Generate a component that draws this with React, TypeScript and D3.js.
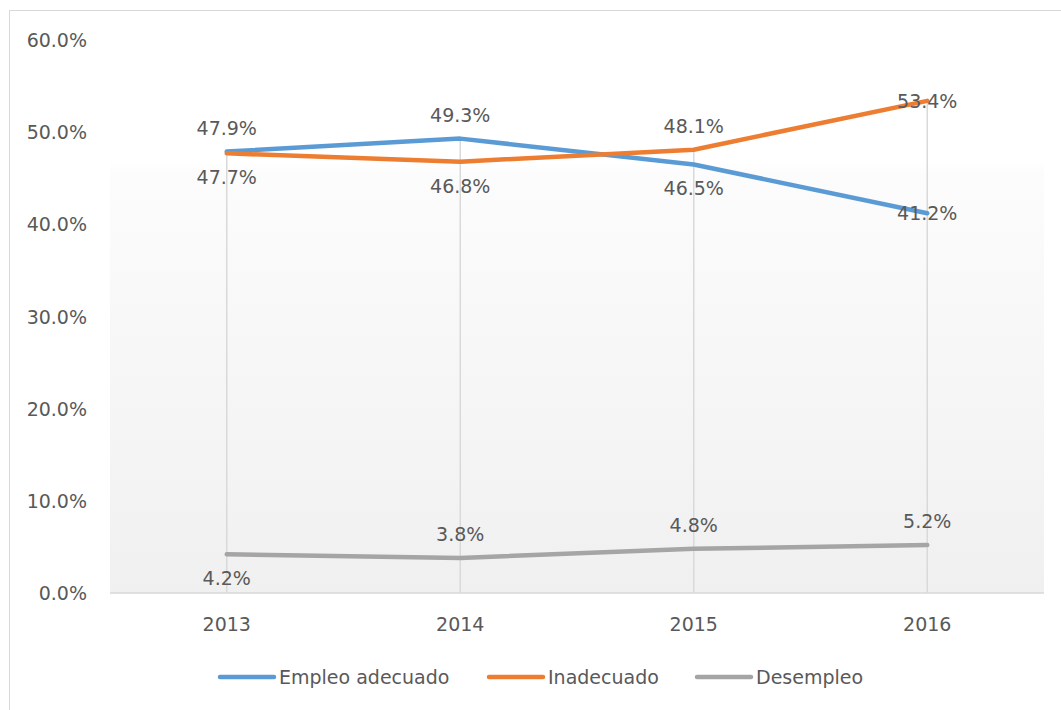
import React, { useRef, useEffect } from 'react';
import * as d3 from 'd3';

// Chart data
const years = ['2013', '2014', '2015', '2016'];
const empleoAdecuado = [47.9, 49.3, 46.5, 41.2];
const inadecuado = [47.7, 46.8, 48.1, 53.4];
const desempleo = [4.2, 3.8, 4.8, 5.2];
const yTicks = [0, 10, 20, 30, 40, 50, 60];

// label placement per point: -1 above, 1 below, 0 centred on the point
const empleoLabelPos = [-1, -1, 1, 0];
const inadecuadoLabelPos = [1, 1, -1, 0];
const desempleoLabelPos = [1, -1, -1, -1];

const W = 1061;
const H = 710;
const FONT = 'DejaVu Sans, sans-serif';
const TEXT = '#595959';

export default function App() {
  const svgRef = useRef<SVGSVGElement>(null);

  useEffect(() => {
    if (!svgRef.current) return;
    const svg = d3.select(svgRef.current);
    svg.selectAll('*').remove();

    const plot = { left: 110, right: 1044, top: 40, bottom: 593 };

    const x = d3.scaleBand<string>()
      .domain(years)
      .range([plot.left, plot.right]);
    const cx = (d: string) => (x(d) || 0) + x.bandwidth() / 2;

    const y = d3.scaleLinear()
      .domain([0, 60])
      .range([plot.bottom, plot.top]);

    // outer chart border
    svg.append('rect')
      .attr('x', 9.5)
      .attr('y', 10.5)
      .attr('width', W + 20)
      .attr('height', H + 20)
      .attr('fill', '#fff')
      .attr('stroke', '#d9d9d9')
      .attr('stroke-width', 1);

    // plot area gradient
    const defs = svg.append('defs');
    const grad = defs.append('linearGradient')
      .attr('id', 'plotbg')
      .attr('x1', '0%').attr('y1', '0%')
      .attr('x2', '0%').attr('y2', '100%');
    grad.append('stop').attr('offset', '0%').attr('stop-color', '#ffffff');
    grad.append('stop').attr('offset', '22%').attr('stop-color', '#ffffff');
    grad.append('stop').attr('offset', '24%').attr('stop-color', '#fcfcfc');
    grad.append('stop').attr('offset', '100%').attr('stop-color', '#f0f0f0');

    svg.append('rect')
      .attr('x', plot.left)
      .attr('y', plot.top)
      .attr('width', plot.right - plot.left)
      .attr('height', plot.bottom - plot.top)
      .attr('fill', 'url(#plotbg)');

    // drop lines from the highest point of each category to the axis
    const tops = years.map((_, i) => Math.max(empleoAdecuado[i], inadecuado[i], desempleo[i]));
    svg.append('g')
      .selectAll('line')
      .data(years)
      .enter()
      .append('line')
      .attr('x1', d => cx(d))
      .attr('x2', d => cx(d))
      .attr('y1', (_, i) => y(tops[i]))
      .attr('y2', plot.bottom)
      .attr('stroke', '#d9d9d9')
      .attr('stroke-width', 1.5);

    // x axis line
    svg.append('line')
      .attr('x1', plot.left)
      .attr('x2', plot.right)
      .attr('y1', plot.bottom)
      .attr('y2', plot.bottom)
      .attr('stroke', '#d9d9d9')
      .attr('stroke-width', 1.5);

    // y tick labels
    svg.append('g')
      .selectAll('text')
      .data(yTicks)
      .enter()
      .append('text')
      .attr('x', 87)
      .attr('y', d => y(d))
      .attr('text-anchor', 'end')
      .attr('dominant-baseline', 'central')
      .attr('fill', TEXT)
      .attr('font-family', FONT)
      .attr('font-size', 19)
      .text(d => d.toFixed(1) + '%');

    // x tick labels
    svg.append('g')
      .selectAll('text')
      .data(years)
      .enter()
      .append('text')
      .attr('x', d => cx(d))
      .attr('y', 624)
      .attr('text-anchor', 'middle')
      .attr('dominant-baseline', 'central')
      .attr('fill', TEXT)
      .attr('font-family', FONT)
      .attr('font-size', 19)
      .text(d => d);

    const series = [
      { name: 'Empleo adecuado', values: empleoAdecuado, pos: empleoLabelPos, color: '#5b9bd5' },
      { name: 'Inadecuado', values: inadecuado, pos: inadecuadoLabelPos, color: '#ed7d31' },
      { name: 'Desempleo', values: desempleo, pos: desempleoLabelPos, color: '#a5a5a5' },
    ];

    const line = d3.line<number>()
      .x((_, i) => cx(years[i]))
      .y(d => y(d));

    series.forEach(s => {
      svg.append('path')
        .datum(s.values)
        .attr('fill', 'none')
        .attr('stroke', s.color)
        .attr('stroke-width', 4.5)
        .attr('stroke-linecap', 'round')
        .attr('stroke-linejoin', 'round')
        .attr('d', line);
    });

    // data labels
    series.forEach(s => {
      svg.append('g')
        .selectAll('text')
        .data(s.values)
        .enter()
        .append('text')
        .attr('x', (_, i) => cx(years[i]))
        .attr('y', (d, i) => y(d) + s.pos[i] * 24)
        .attr('text-anchor', 'middle')
        .attr('dominant-baseline', 'central')
        .attr('fill', TEXT)
        .attr('font-family', FONT)
        .attr('font-size', 19)
        .text(d => d.toFixed(1) + '%');
    });

    // legend
    const legendX = [220, 489, 697];
    const legend = svg.append('g');
    series.forEach((s, i) => {
      const g = legend.append('g').attr('transform', `translate(${legendX[i]}, 677)`);
      g.append('line')
        .attr('x1', 0)
        .attr('x2', 54)
        .attr('stroke', s.color)
        .attr('stroke-width', 4.5)
        .attr('stroke-linecap', 'round');
      g.append('text')
        .attr('x', 59)
        .attr('dominant-baseline', 'central')
        .attr('fill', TEXT)
        .attr('font-family', FONT)
        .attr('font-size', 19)
        .text(s.name);
    });
  }, []);

  return (
    <div style={{ position: 'absolute', left: 0, top: 0, width: W, height: H, overflow: 'hidden' }}>
      <svg ref={svgRef} width={W} height={H} style={{ display: 'block' }} />
    </div>
  );
}
